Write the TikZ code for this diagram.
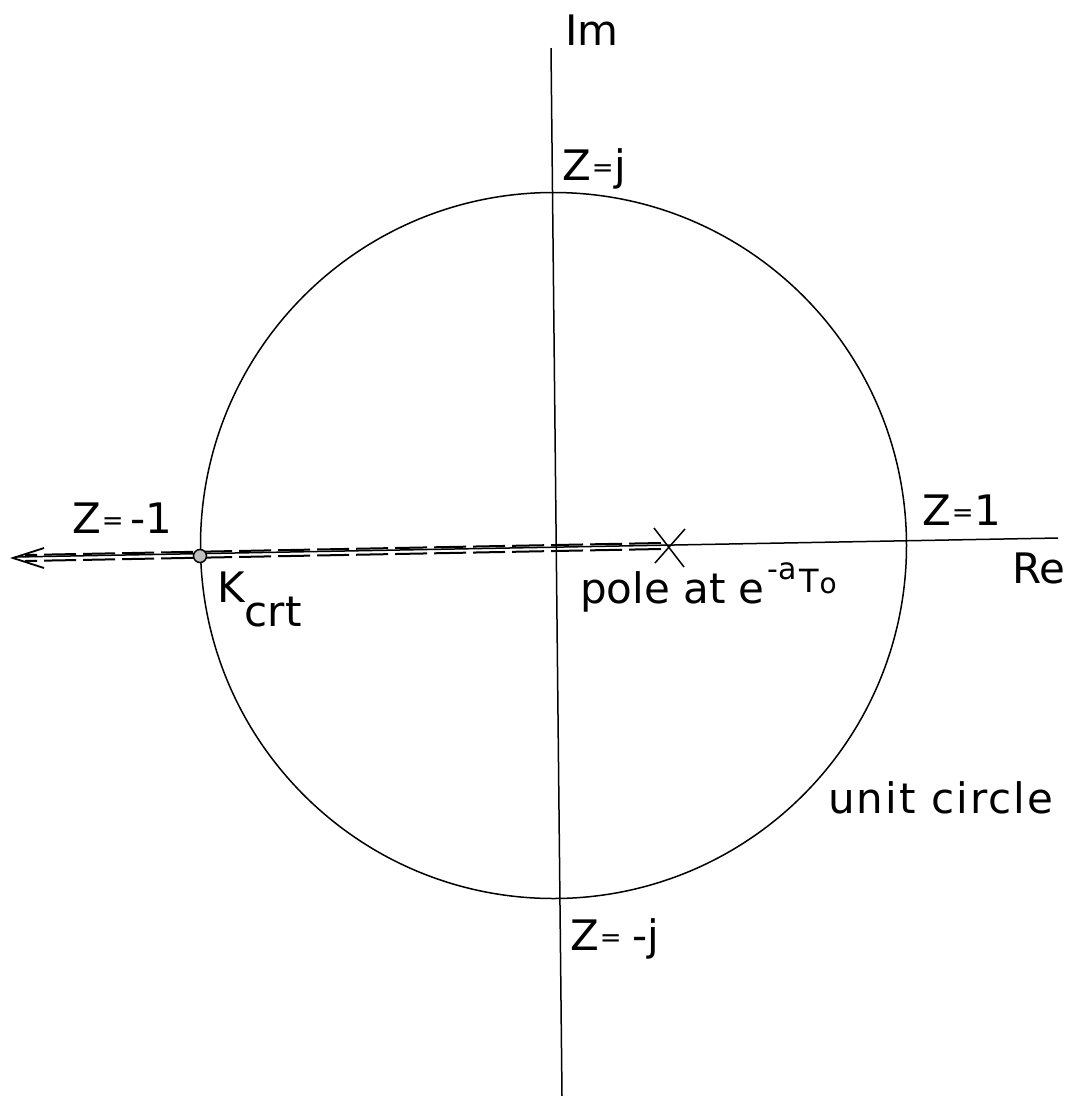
\documentclass[tikz,border=0pt]{standalone}
\usepackage{fontspec}
\setmainfont{DejaVu Sans}
\usetikzlibrary{calc}
\newcommand\zeq{\kern1pt\raisebox{4pt}{\fontsize{26}{28}\selectfont =}\kern1pt}
\begin{document}
\begin{tikzpicture}[x=1pt,y=-1pt,
  lbl/.style={inner sep=0pt, anchor=base west, font=\fontsize{42}{48}\selectfont},
  ln/.style={line width=1.5pt, black},
  dsh/.style={line width=2pt, black, dash pattern=on 32pt off 7pt}]
\useasboundingbox (0,0) rectangle (1077,1096);
\coordinate (O) at (553.5,545.5);
\coordinate (imtop) at (551,48);
\coordinate (imbot) at (562,1096);
\coordinate (releft) at (15,557);
\coordinate (reright) at (1058,538);
\coordinate (pole) at (669,546);
\coordinate (tip) at (13,558);
\coordinate (K) at (200,556);
% axes and circle
\draw[ln] (O) circle[radius=353];
\draw[ln] (imtop) -- (imbot);
\draw[ln] (releft) -- (reright);
% dashed double locus towards -infinity
\draw[dsh] ($(pole)+(-8,-3)$) -- ($(tip)+(12,-3)$);
\draw[dsh] ($(pole)+(-8,3)$) -- ($(tip)+(12,3)$);
\draw[ln, line width=1.8pt] ($(tip)+(31,-10)$) -- (tip) -- ($(tip)+(31,10)$);
% pole cross
\draw[ln] ($(pole)+(-15,-18)$) -- ($(pole)+(15,21)$);
\draw[ln] ($(pole)+(16,-17)$) -- ($(pole)+(-14,17)$);
% Kcrt point
\draw[line width=1.5pt, fill=gray!50] (K) circle[radius=6.5];
% labels
\node[lbl] (im) at (565,45) {Im};
\node[lbl] (zj) at (562,180) {Z\zeq j};
\node[lbl] (zm1) at (72,533) {Z\zeq\kern6pt-1};
\node[lbl] (z1) at (922,525) {Z\zeq 1};
\node[lbl] (re) at (1012,583) {Re};
\node[lbl] (kcrt) at (217,602) {K\raisebox{-24pt}{crt}};
\node[lbl] (polelbl) at (580,603) {pole at e\kern3pt\raisebox{24pt}{\fontsize{30}{32}\selectfont -a}\kern2pt\raisebox{11pt}{\fontsize{32}{34}\selectfont T}\kern1pt\raisebox{10pt}{\fontsize{28}{30}\selectfont o}};
\node[lbl] (zmj) at (570,950) {Z\zeq\kern10pt-j};
\node[lbl, font=\fontsize{42}{48}\selectfont\addfontfeature{LetterSpace=5}] (uc) at (828,813) {unit circle};
\end{tikzpicture}
\end{document}
